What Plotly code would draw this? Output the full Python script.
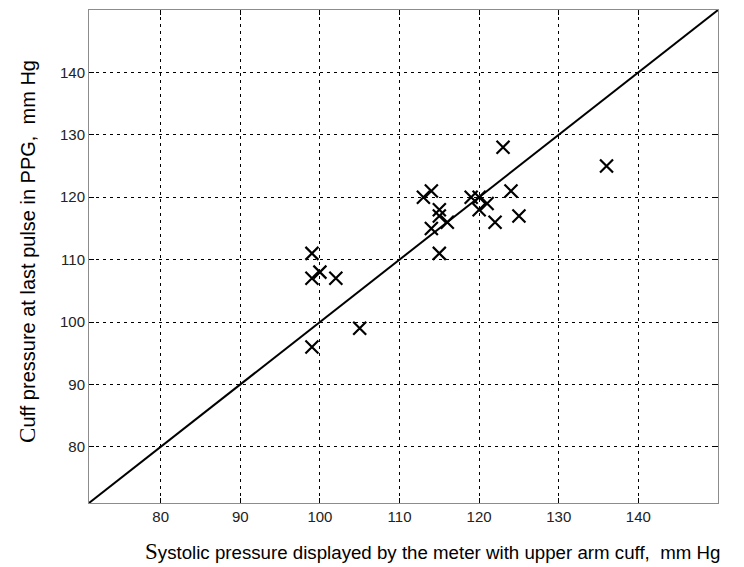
import plotly.graph_objects as go

meter_x = [99, 100, 99, 102, 105, 99, 113, 114, 115, 115, 114, 116, 115, 119, 120, 121, 120, 122, 124, 125, 123, 136]
ppg_y = [111, 108, 107, 107, 99, 96, 120, 121, 118, 117, 115, 116, 111, 120, 120, 119, 118, 116, 121, 117, 128, 125]
line_ends = [71, 150]
tick_vals = [80, 90, 100, 110, 120, 130, 140]
x_title = '<span style="font-family:Liberation Serif;font-size:23px">S</span>ystolic pressure displayed by the meter with upper arm cuff,  mm Hg'
y_title = '<span style="font-family:Liberation Serif;font-size:23px">C</span>uff pressure at last pulse in PPG,  mm Hg'

fig = go.Figure()
fig.add_trace(go.Scatter(x=line_ends, y=line_ends, mode="lines",
                         line=dict(color="black", width=2), hoverinfo="skip"))
fig.add_trace(go.Scatter(x=meter_x, y=ppg_y, mode="markers",
                         marker=dict(symbol="x-thin", size=13, color="black",
                                     line=dict(color="black", width=2.2))))

axis_common = dict(
    range=[71, 150], tickvals=tick_vals, showgrid=True, gridcolor="black",
    gridwidth=1, griddash="3px,4px", zeroline=False, showline=True,
    linecolor="#8c8c8c", linewidth=1, mirror="ticks", ticks="inside",
    ticklen=5, tickcolor="black", tickwidth=1,
    tickfont=dict(family="Liberation Sans, Arial", size=15, color="#222"),
)

fig.update_xaxes(**axis_common)
fig.update_yaxes(**axis_common)

fig.add_annotation(text=x_title, xref="paper", yref="paper", x=0.546, y=-0.099,
                   xanchor="center", yanchor="middle", showarrow=False,
                   font=dict(family="Liberation Sans, Arial", size=18.7, color="black"))
fig.add_annotation(text=y_title, xref="paper", yref="paper", x=-0.098, y=0.51,
                   xanchor="center", yanchor="middle", showarrow=False, textangle=-90,
                   font=dict(family="Liberation Sans, Arial", size=20, color="black"))

fig.update_layout(width=744, height=567, margin=dict(l=89, r=26, t=10, b=64),
                  plot_bgcolor="white", paper_bgcolor="white", showlegend=False)

fig.write_html("out.html")
